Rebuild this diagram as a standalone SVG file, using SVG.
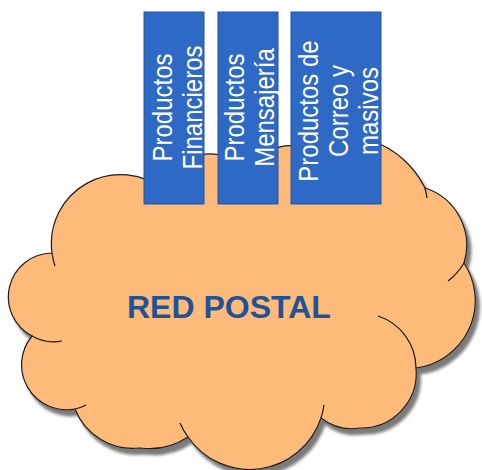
<svg xmlns="http://www.w3.org/2000/svg" width="482" height="470" viewBox="0 0 482 470">
  <defs>
    <filter id="sh" x="-10%" y="-10%" width="125%" height="125%">
      <feDropShadow dx="4" dy="6" stdDeviation="1.5" flood-color="#7a7a7a" flood-opacity="1"/>
    </filter>
    <style>
      .cloud { fill: #FEBA78; stroke: #1a1a1a; stroke-width: 1.2; }
      .tick { fill: none; stroke: #1a1a1a; stroke-width: 1.2; }
      .box { fill: #2F69C6; stroke: #2255A6; stroke-width: 1; }
      .lbl { font-family: "Liberation Sans", Arial, sans-serif; font-size: 24px; fill: #ffffff; text-anchor: middle; }
      .title { font-family: "Liberation Sans", Arial, sans-serif; font-size: 32px; font-weight: bold; fill: #1F5299; }
    </style>
  </defs>
  <rect width="482" height="470" fill="#ffffff"/>
  <g id="red-postal">
    <path class="cloud" filter="url(#sh)" d="M52,253 A69 69 0 0 1 165,191 A47 47 0 0 1 248,172 A48 48 0 0 1 297,146 A94 94 0 0 1 425,188 A60 60 0 0 1 464,263 A68 68 0 0 1 416,368 A55 55 0 0 1 360,428 A50 50 0 0 1 321,418 A75 75 0 0 1 188,437 A70 70 0 0 1 140,448 A62 62 0 0 1 75,409 A45 45 0 0 1 32,336 A44 44 0 0 1 52,253 Z"/>
    <path class="tick" d="M52,253 A69 69 0 0 0 55,266"/>
    <path class="tick" d="M32,336 A44 44 0 0 0 62,341"/>
    <path class="tick" d="M75,409 A45 45 0 0 0 86,405"/>
    <path class="tick" d="M188,437 A75 75 0 0 1 180,423"/>
    <path class="tick" d="M321,418 A75 75 0 0 0 324,405"/>
    <path class="tick" d="M416,368 A55 55 0 0 0 378,316"/>
    <path class="tick" d="M464,263 A60 60 0 0 1 448,281"/>
    <path class="tick" d="M425,188 A94 94 0 0 1 427,198"/>
    <text class="title" x="127" y="318">RED POSTAL</text>
  </g>
  <g id="productos-financieros">
    <rect class="box" x="144" y="12" width="60" height="192"/>
    <text class="lbl" transform="translate(172,107.5) rotate(-90) scale(1,1.12)">Productos</text>
    <text class="lbl" transform="translate(202,107.5) rotate(-90) scale(1,1.12)">Financieros</text>
  </g>
  <g id="productos-mensajeria">
    <rect class="box" x="218" y="12" width="60" height="192"/>
    <text class="lbl" transform="translate(244,107.5) rotate(-90) scale(1,1.12)">Productos</text>
    <text class="lbl" transform="translate(274,107.5) rotate(-90) scale(1,1.12)">Mensajería</text>
  </g>
  <g id="productos-correo">
    <rect class="box" x="291" y="12" width="90" height="192"/>
    <text class="lbl" transform="translate(318,111) rotate(-90) scale(1,1.12)">Productos de</text>
    <text class="lbl" transform="translate(348,111) rotate(-90) scale(1,1.12)">Correo y</text>
    <text class="lbl" transform="translate(378,111) rotate(-90) scale(1,1.12)">masivos</text>
  </g>
  <g id="connectors"></g>
</svg>
